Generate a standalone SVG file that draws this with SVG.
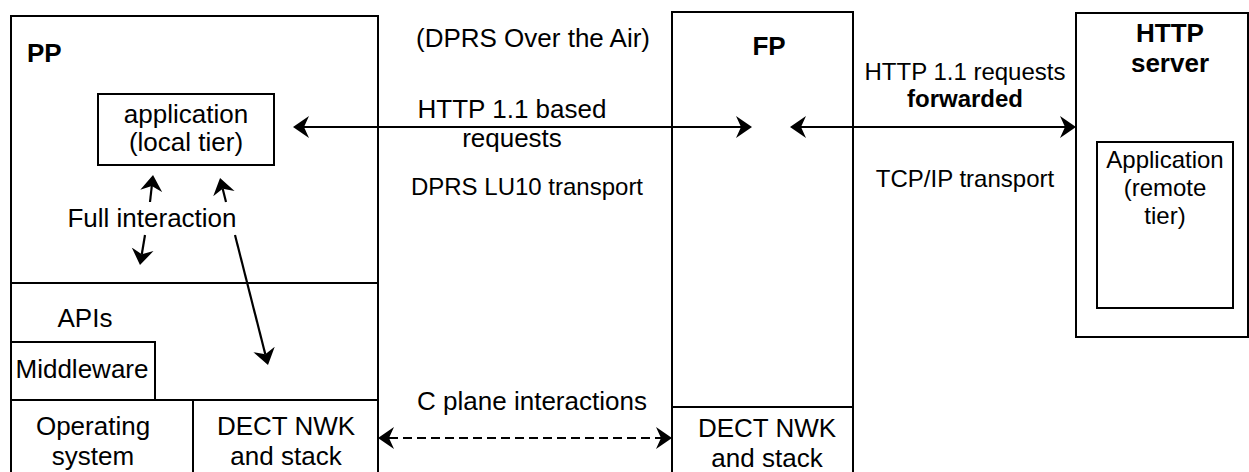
<svg xmlns="http://www.w3.org/2000/svg" width="1249" height="472" viewBox="0 0 1249 472">
<style>
.box{fill:none;stroke:#000;stroke-width:2}
.ln{fill:none;stroke:#000;stroke-width:2}
.t{font-family:"Liberation Sans",Arial,sans-serif;font-size:26px;fill:#000;text-anchor:middle}
.s{font-size:24px}
.b{font-weight:bold}
.st{text-anchor:start}
.con{fill:none;stroke:#000;stroke-width:2.2;marker-end:url(#ah)}
.both{marker-start:url(#ah)}
.dash{stroke-dasharray:9 5}
</style>
<defs>
<marker id="ah" viewBox="0 0 16 24" refX="5" refY="12" markerWidth="16" markerHeight="24" markerUnits="userSpaceOnUse" orient="auto-start-reverse">
<path d="M16,12 L0,1 L5,12 L0,23 Z" fill="#000"/>
</marker>
</defs>
<rect width="1249" height="472" fill="#fff"/>
<g id="pp">
<rect class="box" x="11" y="16" width="367" height="470"/>
<line class="ln" x1="11" y1="283" x2="378" y2="283"/>
<line class="ln" x1="11" y1="400" x2="378" y2="400"/>
<text class="t b st" x="27" y="62">PP</text>
<text class="t" x="152" y="227">Full interaction</text>
</g>
<g id="app-local">
<rect class="box" x="98" y="94" width="176" height="71"/>
<text class="t" x="186" y="123">application</text>
<text class="t" x="186" y="151">(local tier)</text>
</g>
<g id="apis">
<text class="t" x="85" y="327">APIs</text>
</g>
<g id="middleware">
<rect class="box" x="11" y="342" width="144" height="58"/>
<text class="t" x="82" y="378">Middleware</text>
</g>
<g id="os">
<text class="t" x="93" y="435">Operating</text>
<text class="t" x="93" y="465">system</text>
</g>
<g id="pp-dect">
<line class="ln" x1="193" y1="400" x2="193" y2="480"/>
<text class="t" x="286" y="435">DECT NWK</text>
<text class="t" x="286" y="465">and stack</text>
</g>
<g id="fp">
<rect class="box" x="672" y="12" width="181" height="470"/>
<text class="t b" x="769" y="55">FP</text>
</g>
<g id="fp-dect">
<line class="ln" x1="672" y1="407" x2="853" y2="407"/>
<text class="t" x="767" y="437">DECT NWK</text>
<text class="t" x="767" y="467">and stack</text>
</g>
<g id="http-server">
<rect class="box" x="1076" y="13" width="172" height="324"/>
<text class="t b" x="1170" y="42">HTTP</text>
<text class="t b" x="1170" y="72">server</text>
</g>
<g id="app-remote">
<rect class="box" x="1097" y="142" width="136" height="166"/>
<text class="t s" x="1165" y="168">Application</text>
<text class="t s" x="1165" y="196">(remote</text>
<text class="t s" x="1165" y="224">tier)</text>
</g>
<g id="labels">
<text class="t" x="533" y="47">(DPRS Over the Air)</text>
<text class="t" x="512" y="118">HTTP 1.1 based</text>
<text class="t" x="512" y="147">requests</text>
<text class="t s" x="527" y="195">DPRS LU10 transport</text>
<text class="t" x="532" y="410">C plane interactions</text>
<text class="t s" x="965" y="80">HTTP 1.1 requests</text>
<text class="t s b" x="965" y="107">forwarded</text>
<text class="t s" x="965" y="187">TCP/IP transport</text>
</g>
<g id="connectors">
<line class="con both" x1="304" y1="127" x2="741" y2="127"/>
<line class="con both" x1="801" y1="127" x2="1065" y2="127"/>
<line class="con both dash" x1="389" y1="438" x2="661" y2="438"/>
<line class="con" x1="150" y1="202" x2="151.8" y2="185.9"/>
<line class="con" x1="226" y1="202" x2="222.7" y2="188.7"/>
<line class="con" x1="145" y1="235" x2="141.8" y2="254.2"/>
<line class="con" x1="235" y1="235" x2="265.3" y2="354.3"/>
</g>
</svg>
